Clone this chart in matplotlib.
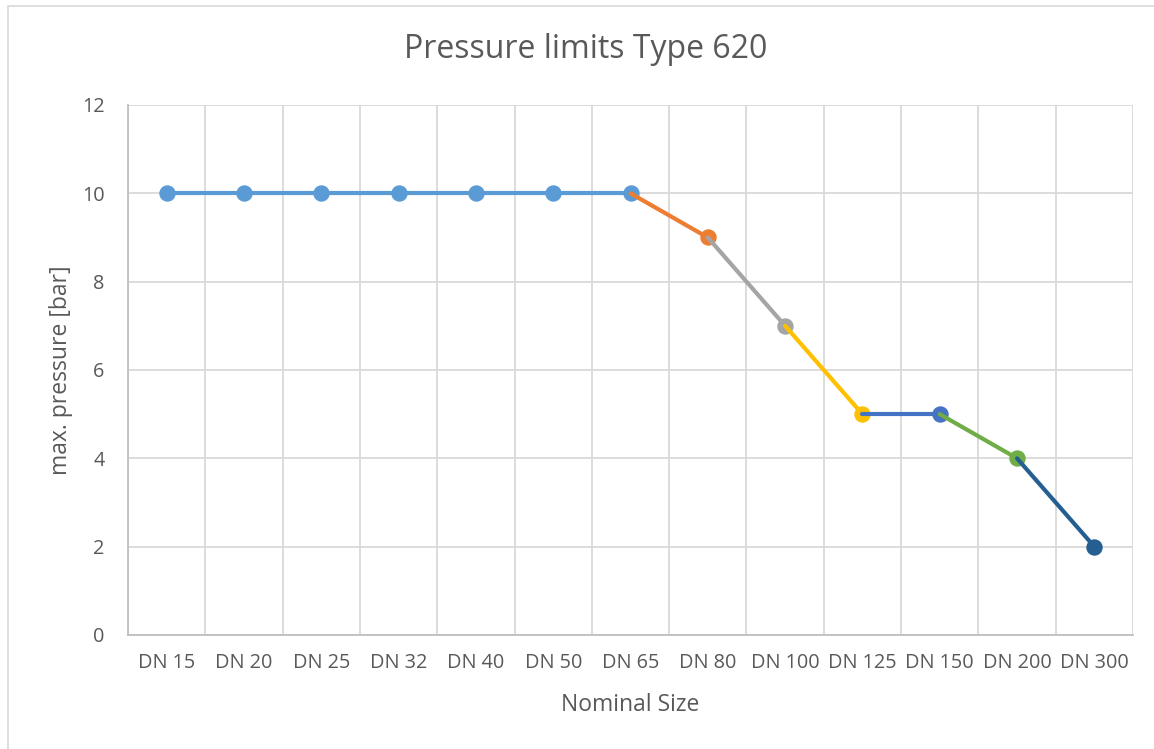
import matplotlib
matplotlib.use("Agg")
import matplotlib.pyplot as plt
from matplotlib.patches import Rectangle
from matplotlib.ticker import MultipleLocator, FixedLocator

categories = ["DN 15", "DN 20", "DN 25", "DN 32", "DN 40", "DN 50", "DN 65",
              "DN 80", "DN 100", "DN 125", "DN 150", "DN 200", "DN 300"]
pressure = [10, 10, 10, 10, 10, 10, 10, 9, 7, 5, 5, 4, 2]
# segments: (start index, end index) of each series
segments = [(0, 6), (6, 7), (7, 8), (8, 9), (9, 10), (10, 11), (11, 12)]
seg_colors = ["#5B9BD5", "#ED7D31", "#A5A5A5", "#FFC000", "#4472C4", "#70AD47", "#255E91"]

title = "Pressure limits Type 620"
xlabel = "Nominal Size"
ylabel = "max. pressure [bar]"

plt.rcParams['font.family'] = ['Open Sans', 'DejaVu Sans']
txt = "#595959"

fig = plt.figure(figsize=(11.54, 7.49), dpi=100)
fig.patches.append(Rectangle((8 / 1154, -0.1), 1.2, 1 - 6 / 749 + 0.1,
                             transform=fig.transFigure, fill=False,
                             edgecolor="#D9D9D9", linewidth=1.2))
ax = fig.add_axes([128 / 1154, 1 - 635 / 749, (1133 - 128) / 1154, (635 - 105) / 749])

x = list(range(len(categories)))
for k, ((s, e), c) in enumerate(zip(segments, seg_colors)):
    xs = x[s:e + 1]
    ys = pressure[s:e + 1]
    ax.plot(xs, ys, color=c, linewidth=3, solid_capstyle="round", zorder=3 + k * 0.1)
    mx = xs if k == 0 else xs[1:]
    my = ys if k == 0 else ys[1:]
    ax.plot(mx, my, linestyle="none", marker="o", markersize=10.8,
            markerfacecolor=c, markeredgecolor=c, zorder=3 + k * 0.1 + 0.05)

ax.set_xlim(-0.5, len(categories) - 0.5)
ax.set_ylim(0, 12)
ax.yaxis.set_major_locator(MultipleLocator(2))
ax.set_xticks(x)
ax.set_xticklabels(categories)
ax.xaxis.set_minor_locator(FixedLocator([i - 0.5 for i in range(len(categories) + 1)]))
ax.grid(True, which="minor", axis="x", color="#D9D9D9", linewidth=1.3)
ax.grid(True, which="major", axis="y", color="#D9D9D9", linewidth=1.3)
ax.set_axisbelow(True)
for sp in ["top", "right"]:
    ax.spines[sp].set_visible(False)
for sp in ["left", "bottom"]:
    ax.spines[sp].set_color("#BFBFBF")
    ax.spines[sp].set_linewidth(1.3)
ax.tick_params(which="both", length=0, colors=txt, labelsize=14.3)
ax.tick_params(axis="x", pad=13)
ax.tick_params(axis="y", pad=17)

ax.set_xlabel(xlabel, fontsize=16.5, color=txt, va="center")
ax.set_ylabel(ylabel, fontsize=16.5, color=txt, va="center")
ax.xaxis.set_label_coords(0.5, -70 / 530)
ax.yaxis.set_label_coords((61 - 128) / 1005, 0.5)
fig.text(586 / 1154, 1 - 50 / 749, title, fontsize=23, color=txt, ha="center", va="center")

fig.savefig("out.png", dpi=100, facecolor="white")
